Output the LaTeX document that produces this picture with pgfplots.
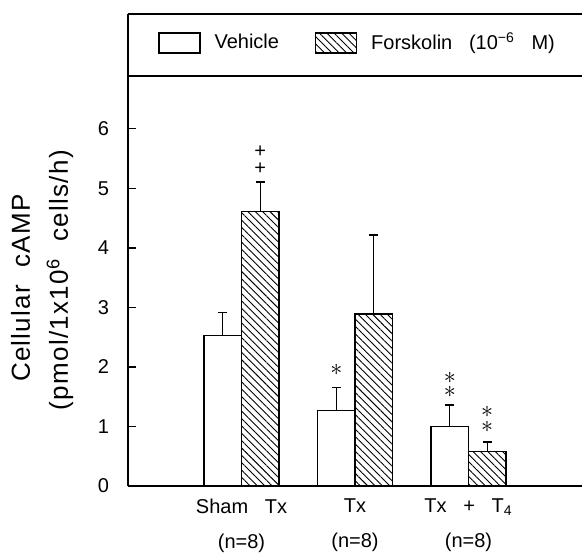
\documentclass[border=0pt]{standalone}
\usepackage{fontspec}
\setmainfont{Liberation Sans}[WordSpace=3]
\newfontfamily\labfont{Liberation Sans}[LetterSpace=5, WordSpace=2]
\usepackage{pgfplots}
\pgfplotsset{compat=1.18}
\usetikzlibrary{patterns.meta}

\begin{document}
\begin{tikzpicture}[font=\fontsize{10}{12}\selectfont]
\useasboundingbox (-64pt,-33pt) rectangle (227pt,243pt);
\begin{axis}[
  scale only axis,
  width=227pt, height=236pt,
  xmin=-1, xmax=3, ymin=0, ymax=7.93,
  axis x line*=bottom, axis y line*=left,
  x axis line style={-}, y axis line style={-},
  axis line style={line width=0.7pt},
  ybar=0pt, bar width=18.75pt,
  xtick={0,1,2},
  xticklabels={{Sham Tx\\[5.5pt](n=8)},{Tx\\[5.5pt](n=8)},{Tx + T\textsubscript{4}\\[5.5pt](n=8)}},
  xticklabel style={align=center, yshift=-3pt},
  xtick style={draw=none},
  ytick={0,1,2,3,4,5,6},
  ytick pos=left,
  yticklabel style={xshift=-6pt},
  tick align=inside, major tick length=4pt,
  tick style={line width=0.6pt, black},
  /pgf/number format/assume math mode=true,
  legend style={draw=none, fill=none, at={(rel axis cs:0.508,0.9386)}, anchor=center,
    /tikz/every even column/.append style={column sep=16pt},
    /tikz/every odd column/.append style={column sep=5pt}},
  legend columns=2,
  leg/.style={legend image code/.code={\draw[##1] (0pt,-5pt) rectangle (20.5pt,5pt);}},
  clip=false,
]
\addplot[draw=black, fill=white, line width=0.6pt, leg,
  error bars/.cd, y dir=plus, y explicit,
  error bar style={line width=0.7pt, black},
  error mark options={rotate=90, line width=0.7pt, mark size=2.2pt, black}]
  coordinates {(0,2.53) +- (0,0.38) (1,1.27) +- (0,0.39) (2,1.00) +- (0,0.36)};
\addlegendentry{Vehicle}
\addplot[draw=black, line width=0.6pt, leg,
  pattern={Lines[angle=-45,distance=2.6pt,line width=0.45pt]},
  error bars/.cd, y dir=plus, y explicit,
  error bar style={line width=0.7pt, black},
  error mark options={rotate=90, line width=0.7pt, mark size=2.2pt, black}]
  coordinates {(0,4.61) +- (0,0.50) (1,2.89) +- (0,1.33) (2,0.58) +- (0,0.16)};
\addlegendentry{Forskolin (10\textsuperscript{−6} M)}

\draw[line width=0.7pt] (rel axis cs:0,1) -- (rel axis cs:1,1);
\draw[line width=0.7pt] (rel axis cs:0,0.8686) -- (rel axis cs:1,0.8686);

% significance marks
\node[inner sep=0pt, align=center, font=\fontsize{10}{8.3}\selectfont]
  at (axis cs:0.165,5.47) {+\\+};
\begin{scope}[every node/.style={inner sep=0pt, align=center, font=\fontsize{12}{7.1}\selectfont}]
\node at (axis cs:0.835,1.95) {$\ast$};
\node at (axis cs:1.835,1.70) {$\ast$\\$\ast$};
\node at (axis cs:2.165,1.12) {$\ast$\\$\ast$};
\end{scope}

\node[rotate=90, anchor=base, font=\labfont\fontsize{13}{15}\selectfont]
  at ([xshift=-49pt]rel axis cs:0,0.419) {Cellular cAMP};
\node[rotate=90, anchor=base, font=\labfont\fontsize{13}{15}\selectfont]
  at ([xshift=-30pt]rel axis cs:0,0.436) {(pmol/1x10\textsuperscript{6} cells/h)};
\end{axis}
\end{tikzpicture}
\end{document}
